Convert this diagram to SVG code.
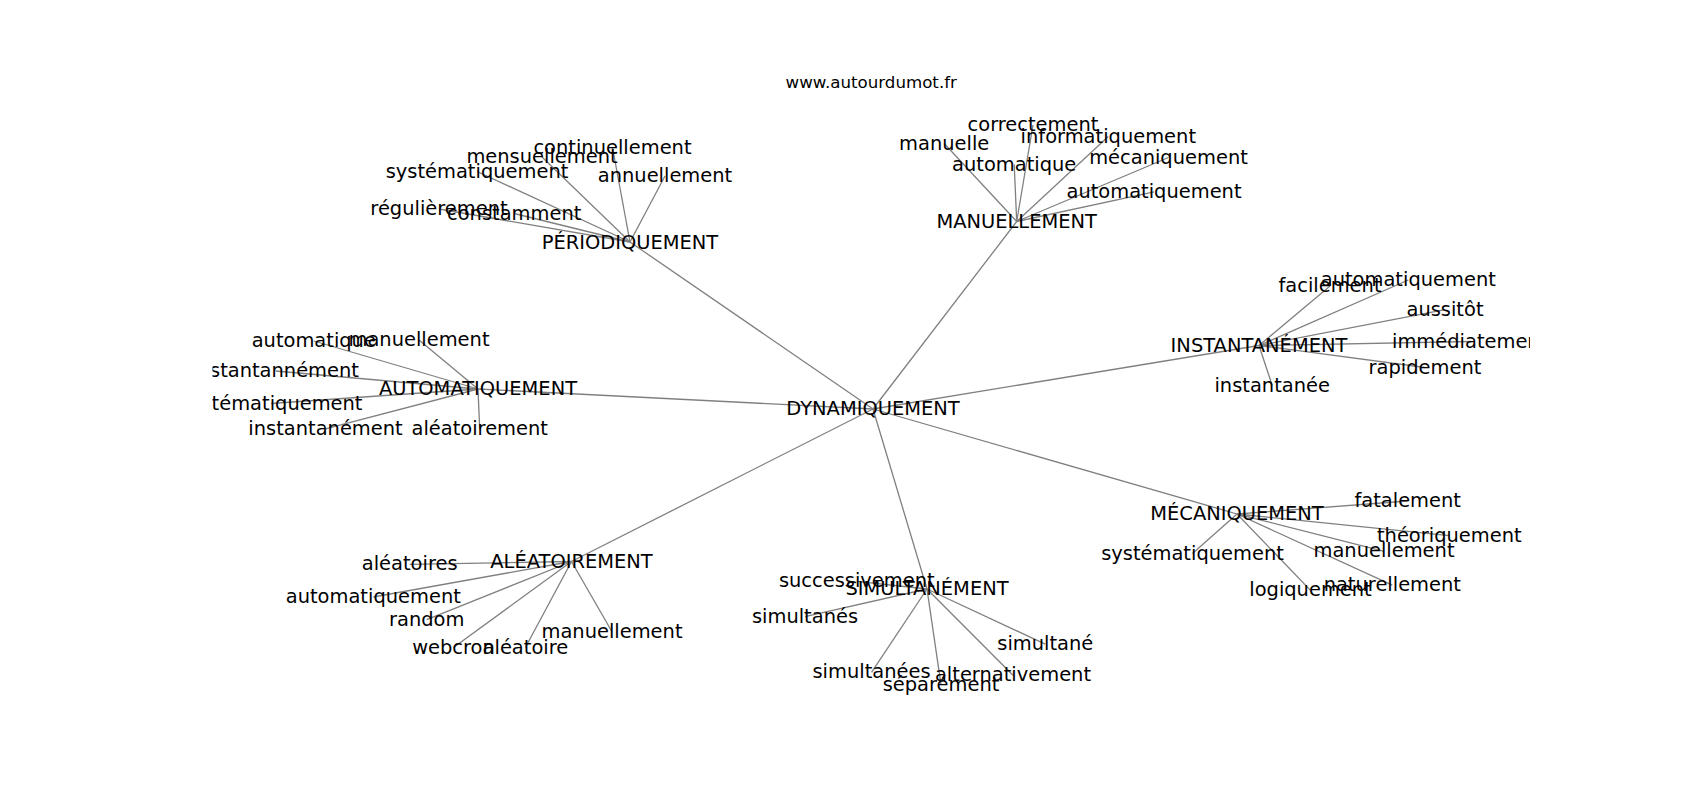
<svg xmlns="http://www.w3.org/2000/svg" width="1700" height="800" viewBox="0 0 1700 800">
<style>
text{font-family:"DejaVu Sans","Liberation Sans",sans-serif;fill:#000}
.lbl{font-size:19.44px;text-anchor:middle}
.ls{font-size:19.44px;text-anchor:start}
.title{font-size:16.67px;text-anchor:middle}
#edges line{stroke:#808080;stroke-width:1.3;fill:none}
</style>
<defs><clipPath id="ax"><rect x="212.5" y="96" width="1317.5" height="616"/></clipPath></defs>
<rect x="0" y="0" width="1700" height="800" fill="#fff"/>
<text class="title" x="871.25" y="88">www.autourdumot.fr</text>
<g clip-path="url(#ax)">
<g id="edges">
<line x1="873" y1="409" x2="630" y2="242"/>
<line x1="873" y1="409" x2="1016.7" y2="221.5"/>
<line x1="873" y1="409" x2="1259" y2="345.5"/>
<line x1="873" y1="409" x2="1237" y2="514"/>
<line x1="873" y1="409" x2="927" y2="589"/>
<line x1="873" y1="409" x2="571.5" y2="561.5"/>
<line x1="873" y1="409" x2="478" y2="389"/>
<line x1="630" y1="242" x2="612.5" y2="147.5"/>
<line x1="630" y1="242" x2="542" y2="157"/>
<line x1="630" y1="242" x2="477" y2="171.5"/>
<line x1="630" y1="242" x2="665" y2="176"/>
<line x1="630" y1="242" x2="439" y2="209"/>
<line x1="630" y1="242" x2="514.2" y2="213.5"/>
<line x1="1016.7" y1="221.5" x2="1033" y2="125"/>
<line x1="1016.7" y1="221.5" x2="944.2" y2="143.5"/>
<line x1="1016.7" y1="221.5" x2="1108.3" y2="136.5"/>
<line x1="1016.7" y1="221.5" x2="1014.2" y2="164.5"/>
<line x1="1016.7" y1="221.5" x2="1168.5" y2="157.5"/>
<line x1="1016.7" y1="221.5" x2="1154" y2="191.8"/>
<line x1="1259" y1="345.5" x2="1330" y2="286"/>
<line x1="1259" y1="345.5" x2="1408.3" y2="280"/>
<line x1="1259" y1="345.5" x2="1445" y2="309.7"/>
<line x1="1259" y1="345.5" x2="1471" y2="341.5"/>
<line x1="1259" y1="345.5" x2="1425" y2="367.5"/>
<line x1="1259" y1="345.5" x2="1272.2" y2="385.5"/>
<line x1="1237" y1="514" x2="1407.7" y2="501"/>
<line x1="1237" y1="514" x2="1449.3" y2="535.6"/>
<line x1="1237" y1="514" x2="1384" y2="551.4"/>
<line x1="1237" y1="514" x2="1192.5" y2="553.6"/>
<line x1="1237" y1="514" x2="1310.5" y2="590.4"/>
<line x1="1237" y1="514" x2="1392.3" y2="585.2"/>
<line x1="927" y1="589" x2="856.8" y2="581.4"/>
<line x1="927" y1="589" x2="805" y2="616.7"/>
<line x1="927" y1="589" x2="871.5" y2="672.4"/>
<line x1="927" y1="589" x2="941" y2="684.7"/>
<line x1="927" y1="589" x2="1013" y2="675.2"/>
<line x1="927" y1="589" x2="1045.3" y2="644.2"/>
<line x1="571.5" y1="561.5" x2="409.7" y2="564.4"/>
<line x1="571.5" y1="561.5" x2="373.3" y2="597"/>
<line x1="571.5" y1="561.5" x2="426.7" y2="619.7"/>
<line x1="571.5" y1="561.5" x2="453.5" y2="647.5"/>
<line x1="571.5" y1="561.5" x2="525.4" y2="647.5"/>
<line x1="571.5" y1="561.5" x2="612" y2="631.8"/>
<line x1="478" y1="389" x2="313.8" y2="341"/>
<line x1="478" y1="389" x2="419" y2="340"/>
<line x1="478" y1="389" x2="275.7" y2="371"/>
<line x1="478" y1="389" x2="271.1" y2="403.5"/>
<line x1="478" y1="389" x2="325.5" y2="428.8"/>
<line x1="478" y1="389" x2="479.7" y2="428.8"/>
</g>
<g id="nodes" transform="translate(0,1)">
<g id="n-dynamiquement"><text class="lbl" x="873" y="414">DYNAMIQUEMENT</text></g>
<g id="n-periodiquement"><text class="lbl" x="630" y="248">PÉRIODIQUEMENT</text></g>
<g id="n-p-continuellement"><text class="lbl" x="612.5" y="152.5">continuellement</text></g>
<g id="n-p-mensuellement"><text class="lbl" x="542" y="162">mensuellement</text></g>
<g id="n-p-systematiquement"><text class="lbl" x="477" y="176.5">systématiquement</text></g>
<g id="n-p-annuellement"><text class="lbl" x="665" y="181">annuellement</text></g>
<g id="n-p-regulierement"><text class="lbl" x="439" y="214">régulièrement</text></g>
<g id="n-p-constamment"><text class="lbl" x="514.2" y="218.5">constamment</text></g>
<g id="n-manuellement"><text class="lbl" x="1016.7" y="226.7">MANUELLEMENT</text></g>
<g id="n-m-correctement"><text class="lbl" x="1033" y="130">correctement</text></g>
<g id="n-m-manuelle"><text class="lbl" x="944.2" y="148.5">manuelle</text></g>
<g id="n-m-informatiquement"><text class="lbl" x="1108.3" y="141.5">informatiquement</text></g>
<g id="n-m-automatique"><text class="lbl" x="1014.2" y="169.5">automatique</text></g>
<g id="n-m-mecaniquement"><text class="lbl" x="1168.5" y="162.5">mécaniquement</text></g>
<g id="n-m-automatiquement"><text class="lbl" x="1154" y="196.8">automatiquement</text></g>
<g id="n-instantanement"><text class="lbl" x="1259" y="350.7">INSTANTANÉMENT</text></g>
<g id="n-i-facilement"><text class="lbl" x="1330" y="291">facilement</text></g>
<g id="n-i-automatiquement"><text class="lbl" x="1408.3" y="285">automatiquement</text></g>
<g id="n-i-aussitot"><text class="lbl" x="1445" y="314.7">aussitôt</text></g>
<g id="n-i-immediatement"><text class="ls" x="1392" y="346.5">immédiatemen</text></g>
<g id="n-i-rapidement"><text class="lbl" x="1425" y="372.5">rapidement</text></g>
<g id="n-i-instantanee"><text class="lbl" x="1272.2" y="390.5">instantanée</text></g>
<g id="n-mecaniquement"><text class="lbl" x="1237" y="519">MÉCANIQUEMENT</text></g>
<g id="n-c-fatalement"><text class="lbl" x="1407.7" y="506">fatalement</text></g>
<g id="n-c-theoriquement"><text class="lbl" x="1449.3" y="540.6">théoriquement</text></g>
<g id="n-c-manuellement"><text class="lbl" x="1384" y="556.4">manuellement</text></g>
<g id="n-c-systematiquement"><text class="lbl" x="1192.5" y="558.6">systématiquement</text></g>
<g id="n-c-logiquement"><text class="lbl" x="1310.5" y="595.4">logiquement</text></g>
<g id="n-c-naturellement"><text class="lbl" x="1392.3" y="590.2">naturellement</text></g>
<g id="n-simultanement"><text class="lbl" x="927" y="594">SIMULTANÉMENT</text></g>
<g id="n-s-successivement"><text class="lbl" x="856.8" y="586.4">successivement</text></g>
<g id="n-s-simultanes"><text class="lbl" x="805" y="621.7">simultanés</text></g>
<g id="n-s-simultanees"><text class="lbl" x="871.5" y="677.4">simultanées</text></g>
<g id="n-s-separement"><text class="lbl" x="941" y="689.7">séparément</text></g>
<g id="n-s-alternativement"><text class="lbl" x="1013" y="680.2">alternativement</text></g>
<g id="n-s-simultane"><text class="lbl" x="1045.3" y="649.2">simultané</text></g>
<g id="n-aleatoirement"><text class="lbl" x="571.5" y="566.6">ALÉATOIREMENT</text></g>
<g id="n-a-aleatoires"><text class="lbl" x="409.7" y="569.4">aléatoires</text></g>
<g id="n-a-automatiquement"><text class="lbl" x="373.3" y="602">automatiquement</text></g>
<g id="n-a-random"><text class="lbl" x="426.7" y="624.7">random</text></g>
<g id="n-a-webcron"><text class="lbl" x="453.5" y="652.5">webcron</text></g>
<g id="n-a-aleatoire"><text class="lbl" x="525.4" y="653">aléatoire</text></g>
<g id="n-a-manuellement"><text class="lbl" x="612" y="636.8">manuellement</text></g>
<g id="n-automatiquement"><text class="lbl" x="478" y="394">AUTOMATIQUEMENT</text></g>
<g id="n-u-automatique"><text class="lbl" x="313.8" y="346">automatique</text></g>
<g id="n-u-manuellement"><text class="lbl" x="419" y="345">manuellement</text></g>
<g id="n-u-instantannement"><text class="ls" x="210" y="376">stantannément</text></g>
<g id="n-u-systematiquement"><text class="ls" x="211.6" y="408.5">tématiquement</text></g>
<g id="n-u-instantanement"><text class="lbl" x="325.5" y="433.8">instantanément</text></g>
<g id="n-u-aleatoirement"><text class="lbl" x="479.7" y="433.8">aléatoirement</text></g>
</g>
</g>
</svg>
